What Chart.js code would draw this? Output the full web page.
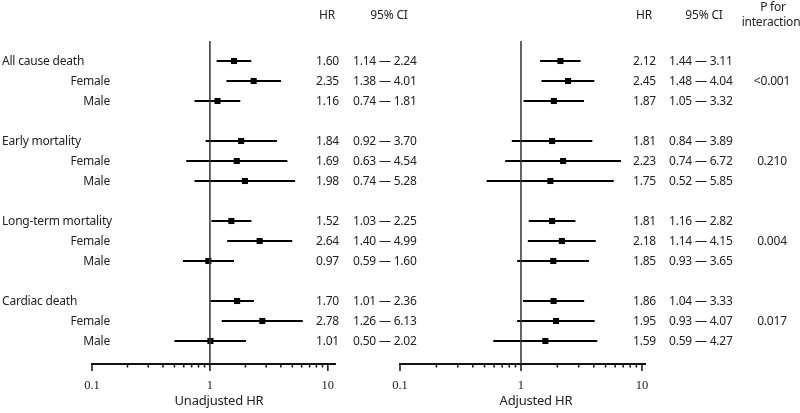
<!DOCTYPE html>
<html>
<head>
<meta charset="utf-8">
<script src="https://cdn.jsdelivr.net/npm/chart.js@4.4.1/dist/chart.umd.min.js"></script>
<style>
  body{margin:0;background:#fff;}
  #wrap{position:relative;width:800px;height:413px;overflow:hidden;font-family:"Noto Sans",sans-serif;color:#222;}
  canvas{position:absolute;left:0;top:0;}
  .t{position:absolute;font-size:12px;line-height:14px;white-space:nowrap;transform:translateY(-50%);letter-spacing:-0.2px;}
  .r{text-align:right;}
  .c{text-align:center;}
</style>
</head>
<body>
<div id="wrap">
  <canvas id="left" width="800" height="413"></canvas>
  <canvas id="right" width="800" height="413"></canvas>
</div>
<script>
// rows: group, Female, Male, blank...
const rowLabels = ['All cause death','Female','Male','','Early mortality','Female','Male','',
  'Long-term mortality','Female','Male','','Cardiac death','Female','Male'];
const isGroup = [1,0,0,0,1,0,0,0,1,0,0,0,1,0,0];

const unadjHR = [1.60,2.35,1.16,null,1.84,1.69,1.98,null,1.52,2.64,0.97,null,1.70,2.78,1.01];
const unadjLo = [1.14,1.38,0.74,null,0.92,0.63,0.74,null,1.03,1.40,0.59,null,1.01,1.26,0.50];
const unadjHi = [2.24,4.01,1.81,null,3.70,4.54,5.28,null,2.25,4.99,1.60,null,2.36,6.13,2.02];

const adjHR = [2.12,2.45,1.87,null,1.81,2.23,1.75,null,1.81,2.18,1.85,null,1.86,1.95,1.59];
const adjLo = [1.44,1.48,1.05,null,0.84,0.74,0.52,null,1.16,1.14,0.93,null,1.04,0.93,0.59];
const adjHi = [3.11,4.04,3.32,null,3.89,6.72,5.85,null,2.82,4.15,3.65,null,3.33,4.07,4.27];

// p for interaction sits on the Female row of each group
const pInteraction = [null,'<0.001',null,null,null,'0.210',null,null,null,'0.004',null,null,null,'0.017',null];

const tickValues = [0.1,0.2,0.3,0.4,0.5,0.6,0.7,0.8,0.9,1,2,3,4,5,6,7,8,9,10];
const majorTicks = [0.1,1,10];

const yMin = -1, yMax = 15.15;

// small ticks under the axis line, major ones longer
const axisTicks = {
  id:'axisTicks',
  afterDraw(chart){
    const s = chart.scales.x, ctx = chart.ctx, y = chart.chartArea.bottom;
    ctx.save();
    ctx.strokeStyle = '#111';
    ctx.lineWidth = 1.5;
    for(const v of tickValues){
      const x = s.getPixelForValue(v);
      const len = majorTicks.includes(v) ? 7 : 3.5;
      ctx.beginPath(); ctx.moveTo(x,y); ctx.lineTo(x,y+len); ctx.stroke();
    }
    ctx.restore();
  }
};

function makeForest(id, hr, lo, hi, xmax, padL, padR){
  const datasets = [];
  datasets.push({data:[{x:1,y:yMin},{x:1,y:yMax}], showLine:true, borderColor:'#333', borderWidth:1.5, pointRadius:0});
  for(let i=0;i<hr.length;i++){
    if(hr[i]==null) continue;
    datasets.push({data:[{x:lo[i],y:i},{x:hi[i],y:i}], showLine:true, borderColor:'#000', borderWidth:2, pointRadius:0});
  }
  const pts = [];
  hr.forEach((v,i)=>{ if(v!=null) pts.push({x:v,y:i}); });
  datasets.push({data:pts, pointStyle:'rect', pointRadius:4.3, backgroundColor:'#000', borderColor:'#000', borderWidth:0});

  return new Chart(document.getElementById(id), {
    type:'scatter',
    data:{datasets},
    plugins:[axisTicks],
    options:{
      responsive:false, animation:false,
      layout:{padding:{left:padL, right:padR, top:41, bottom:0}},
      plugins:{legend:{display:false}, tooltip:{enabled:false}},
      scales:{
        x:{
          type:'logarithmic', min:0.1, max:xmax, position:'bottom',
          afterBuildTicks: s => { s.ticks = tickValues.map(v=>({value:v, major:majorTicks.includes(v)})); },
          afterFit: s => { s.height = 49; },
          grid:{display:false, drawTicks:false},
          border:{display:true, color:'#111', width:2},
          ticks:{autoSkip:false, maxRotation:0, padding:14, color:'#222',
            font:{family:'Liberation Serif', size:12.5},
            callback: v => majorTicks.includes(v) ? String(v) : ''}
        },
        y:{type:'linear', reverse:true, min:yMin, max:yMax, display:false}
      }
    }
  });
}

const leftChart = makeForest('left', unadjHR, unadjLo, unadjHi, 11.5, 92, 465);
const rightChart = makeForest('right', adjHR, adjLo, adjHi, 10.6, 400, 155);

// text columns placed on the chart rows
const wrap = document.getElementById('wrap');
function addText(txt, x, y, cls, w){
  const d = document.createElement('div');
  d.className = 't ' + (cls||'');
  d.textContent = txt;
  d.style.top = y + 'px';
  if(cls === 'r'){ d.style.left = (x - (w||60)) + 'px'; d.style.width = (w||60) + 'px'; }
  else if(cls === 'c'){ d.style.left = (x - (w||60)/2) + 'px'; d.style.width = (w||60) + 'px'; }
  else d.style.left = x + 'px';
  wrap.appendChild(d);
  return d;
}
const ys = leftChart.scales.y;
rowLabels.forEach((lab,i)=>{
  if(!lab) return;
  const y = ys.getPixelForValue(i);
  if(isGroup[i]) addText(lab, 2, y);
  else addText(lab, 110, y, 'r', 100);
  if(unadjHR[i]!=null){
    addText(unadjHR[i].toFixed(2), 339, y, 'r', 40);
    addText(unadjLo[i].toFixed(2) + ' \u2014 ' + unadjHi[i].toFixed(2), 353, y);
    addText(adjHR[i].toFixed(2), 656, y, 'r', 40);
    addText(adjLo[i].toFixed(2) + ' \u2014 ' + adjHi[i].toFixed(2), 669, y);
  }
  if(pInteraction[i]) addText(pInteraction[i], 772, y, 'c', 60);
});
// headers
addText('HR', 327, 15, 'c', 30);
addText('95% CI', 389, 15, 'c', 60);
addText('HR', 644, 15, 'c', 30);
addText('95% CI', 704, 15, 'c', 60);
addText('P for', 773, 7, 'c', 60);
addText('interaction', 771, 22, 'c', 70);
// axis titles
const t1 = addText('Unadjusted HR', 219, 400, 'c', 120); t1.style.fontSize = '13px';
const t2 = addText('Adjusted HR', 536, 400, 'c', 120); t2.style.fontSize = '13px';
</script>
</body>
</html>
